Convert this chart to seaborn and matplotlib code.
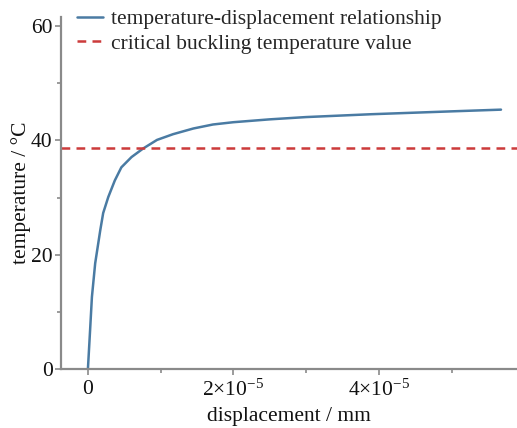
import numpy as np
import pandas as pd
import matplotlib
matplotlib.use("Agg")
import matplotlib.pyplot as plt
import seaborn as sns
from matplotlib.ticker import FixedLocator, FuncFormatter

# data
displacement = [0.0, 0.03e-5, 0.055e-5, 0.1e-5, 0.17e-5, 0.21e-5, 0.28e-5, 0.37e-5,
                0.46e-5, 0.6e-5, 0.76e-5, 0.95e-5, 1.17e-5, 1.45e-5, 1.72e-5,
                2.0e-5, 2.5e-5, 3.0e-5, 3.9e-5, 5.0e-5, 5.68e-5]
temperature = [0.0, 6.8, 12.6, 18.5, 24.3, 27.3, 30.1, 33.0,
               35.3, 37.1, 38.6, 40.1, 41.1, 42.1, 42.8,
               43.2, 43.7, 44.1, 44.6, 45.1, 45.4]
critical_temp = 38.6
labels = ["temperature-displacement relationship", "critical buckling temperature value"]

sns.set_style("ticks")
plt.rcParams['font.family'] = ['Liberation Serif', 'DejaVu Serif']
plt.rcParams['mathtext.fontset'] = 'custom'
plt.rcParams['mathtext.rm'] = 'Liberation Serif'
plt.rcParams['mathtext.it'] = 'Liberation Serif'

fig = plt.figure(figsize=(5.17, 4.28), dpi=100)
ax = fig.add_axes([0.118, 0.138, 0.882, 0.822])

df = pd.DataFrame({"displacement": displacement, "temperature": temperature})
sns.lineplot(data=df, x="displacement", y="temperature", ax=ax, color="#4a7ba3",
             lw=1.8, label=labels[0], sort=False)
ax.axhline(critical_temp, color="#cc3b3b", ls=(0, (3.5, 2.5)), lw=1.8, label=labels[1])

ax.set_xlim(-0.37e-5, 5.9e-5)
ax.set_ylim(0, 61.6)
ax.yaxis.set_major_locator(FixedLocator([0, 20, 40, 60]))
ax.yaxis.set_minor_locator(FixedLocator([10, 30, 50]))
ax.xaxis.set_major_locator(FixedLocator([0, 2e-5, 4e-5]))
ax.xaxis.set_minor_locator(FixedLocator([1e-5, 3e-5, 5e-5]))

def xfmt(v, pos):
    if abs(v) < 1e-12:
        return "0"
    m = v / 1e-5
    return r"$%d{\times}10^{-5}$" % round(m)

ax.xaxis.set_major_formatter(FuncFormatter(xfmt))

for side in ["left", "bottom"]:
    ax.spines[side].set_color("#8a8a8a")
    ax.spines[side].set_linewidth(1.6)
sns.despine(ax=ax)
ax.tick_params(which="both", direction="out", color="#8a8a8a", width=1.2, labelsize=15.5,
               labelcolor="#111111")
ax.tick_params(which="major", length=4.5)
ax.tick_params(which="minor", length=3)
ax.tick_params(axis="y", which="major", pad=1.5)

ax.set_xlabel("displacement / mm", fontsize=15.5, color="#111111")
ax.set_ylabel("temperature / °C", fontsize=15.5, color="#111111", labelpad=0)

ax.legend(loc="upper left", frameon=False, fontsize=15.5, handlelength=1.2,
          handletextpad=0.4, borderaxespad=0, borderpad=0,
          bbox_to_anchor=(0.035, 1.022), labelspacing=0.2)

fig.savefig("out.png", dpi=100)
